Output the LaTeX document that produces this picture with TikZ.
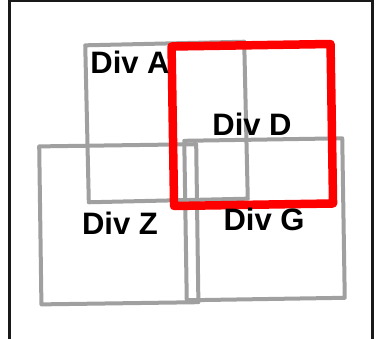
\documentclass[tikz,border=0pt]{standalone}
\usepackage{fontspec}
\setmainfont{Liberation Sans}
\usepackage{tikz}
\definecolor{divgray}{RGB}{160,160,160}
\definecolor{divred}{RGB}{255,0,0}
\definecolor{framec}{RGB}{25,25,25}

\begin{document}
\begin{tikzpicture}[
  x=1pt,y=-1pt,
  font=\fontsize{31}{36}\selectfont\bfseries,
  div/.style={draw=divgray,line width=4pt,line join=round,inner sep=0pt,minimum width=158pt,minimum height=158pt},
  divsel/.style={div,draw=divred,line width=8.5pt},
  lbl/.style={inner sep=0pt,text=black}
]
\useasboundingbox (0,0) rectangle (377,339);
% frame
\coordinate (fbl) at (9.5,345);
\coordinate (ftr) at (372.5,0.7);
\coordinate (fbr) at (372.5,345);
\draw[framec,line width=2.5pt] (fbl) |- (ftr) -- (fbr);
% divisions
\node[div,minimum width=159pt,minimum height=157pt,rotate=1.3] (divA) at (166.5,122) {};
\node[div,minimum width=157pt,rotate=0.8] (divZ) at (118.8,224.3) {};
\node[div,minimum height=159.5pt,rotate=0.9] (divG) at (264.5,219.3) {};
\node[divsel,minimum width=159pt,minimum height=159.5pt,rotate=0.9] (divD) at (252.3,125) {};
% labels
\node[lbl] (lblA) at (130,62) {Div A};
\node[lbl] (lblD) at (252,124.5) {Div D};
\node[lbl] (lblZ) at (120,223.5) {Div Z};
\node[lbl] (lblG) at (264,219) {Div G};
\end{tikzpicture}
\end{document}
